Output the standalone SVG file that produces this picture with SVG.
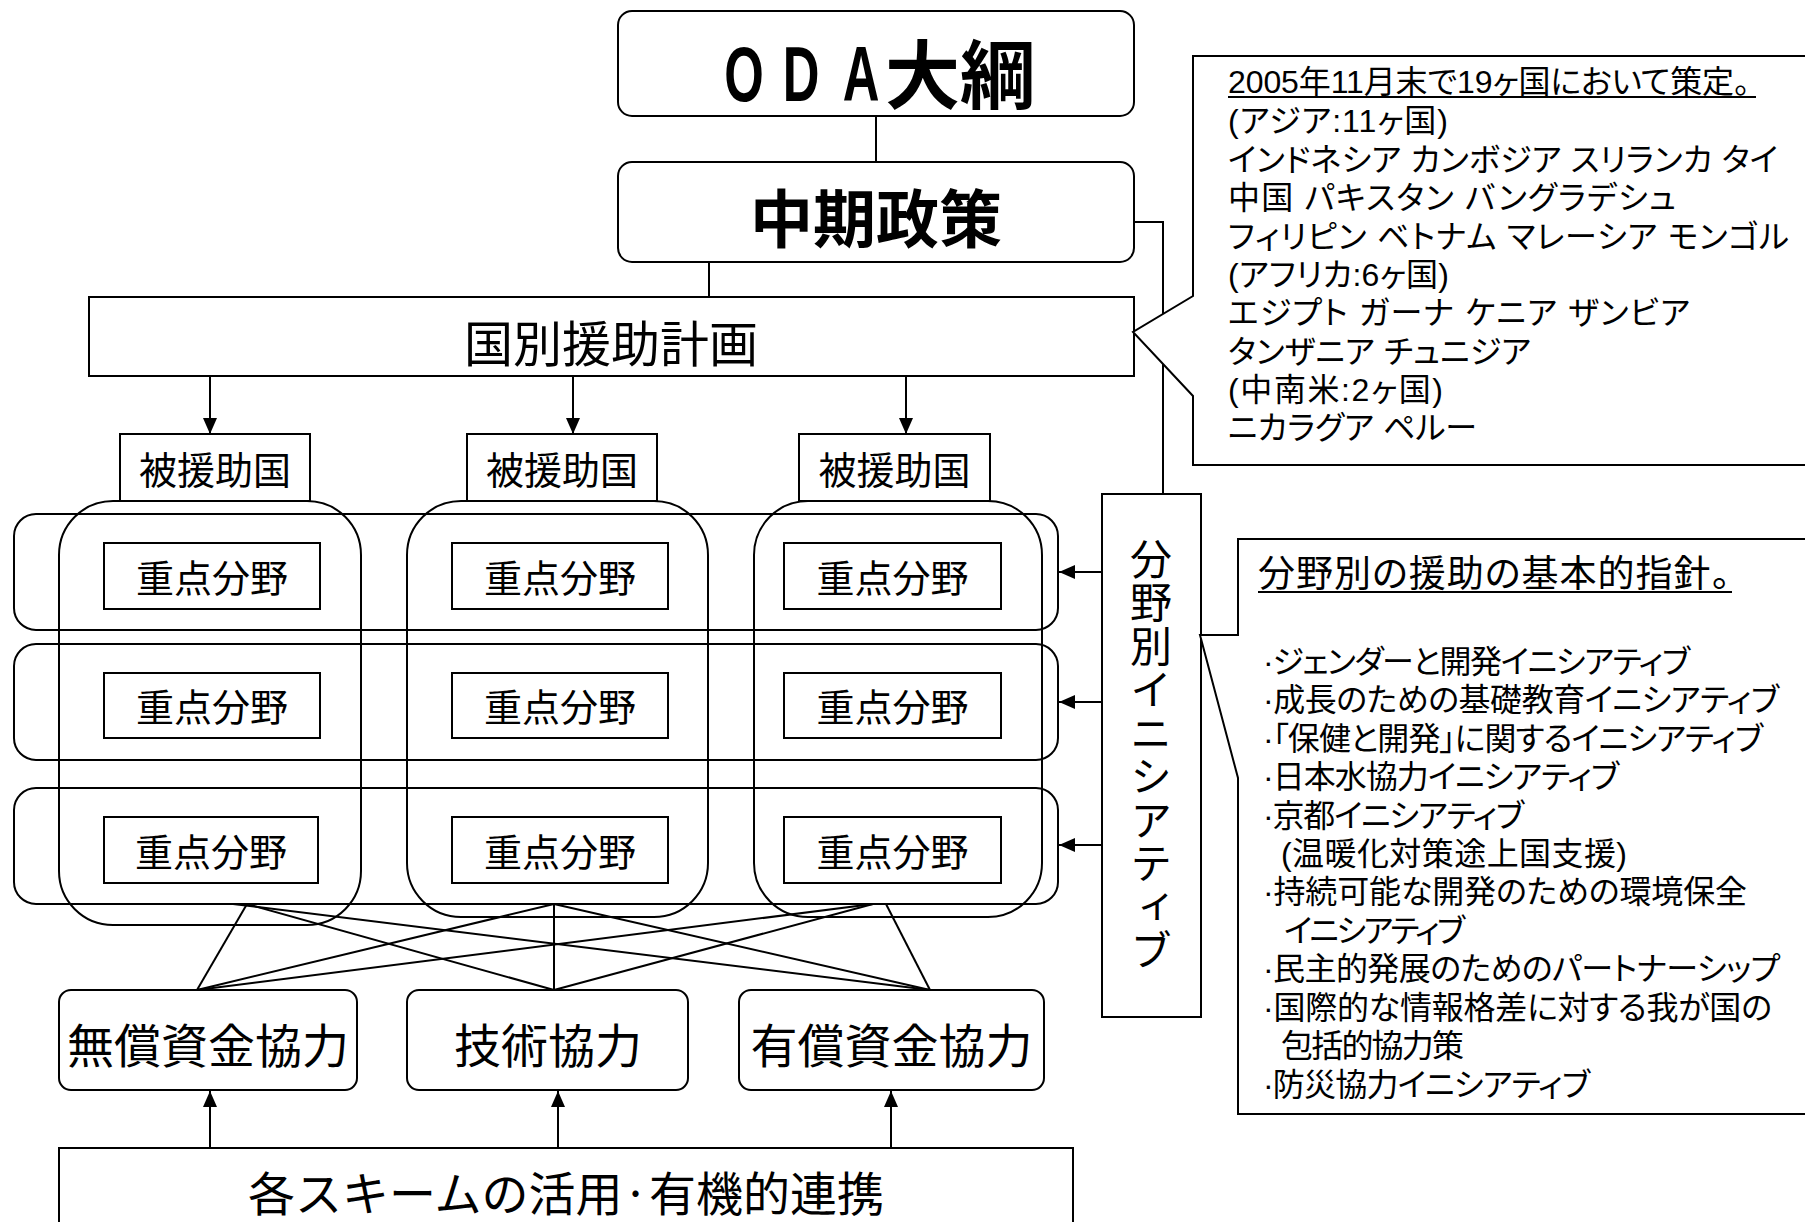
<svg xmlns="http://www.w3.org/2000/svg" width="1805" height="1222" viewBox="0 0 1805 1222">
<style>
.box{fill:#fff;stroke:#000;stroke-width:2}
.grp{fill:none;stroke:#000;stroke-width:2}
.ln{fill:none;stroke:#000;stroke-width:2}
.t{font-family:"Noto Sans CJK JP",sans-serif;fill:#000;text-anchor:middle;dominant-baseline:central}
.c{font-family:"Liberation Sans","Noto Sans CJK JP",sans-serif;font-feature-settings:"palt" 1;font-size:32px;fill:#000;dominant-baseline:central}
.u{stroke:#000;stroke-width:2}
.lat{font-family:"Liberation Sans",sans-serif;font-weight:bold;font-size:77px;text-anchor:middle}
.v{font-family:"Noto Sans CJK JP",sans-serif;font-size:42px;fill:#000;writing-mode:vertical-rl;letter-spacing:1.5px}
</style>
<defs>
<marker id="ah" viewBox="0 0 16 14" refX="16" refY="7" markerWidth="16" markerHeight="14" markerUnits="userSpaceOnUse" orient="auto">
<path d="M0,0 L16,7 L0,14 Z" fill="#000"/>
</marker>
</defs>
<rect width="1805" height="1222" fill="#fff"/>

<g id="connectors">
<line class="ln" x1="876" y1="116" x2="876" y2="162"/>
<line class="ln" x1="709" y1="262" x2="709" y2="297"/>
<path class="ln" d="M1134,222 H1163 V494"/>
<line class="ln" x1="210" y1="376" x2="210" y2="434" marker-end="url(#ah)"/>
<line class="ln" x1="573" y1="376" x2="573" y2="434" marker-end="url(#ah)"/>
<line class="ln" x1="906" y1="376" x2="906" y2="434" marker-end="url(#ah)"/>
<line class="ln" x1="1102" y1="572" x2="1059" y2="572" marker-end="url(#ah)"/>
<line class="ln" x1="1102" y1="702" x2="1059" y2="702" marker-end="url(#ah)"/>
<line class="ln" x1="1102" y1="845" x2="1059" y2="845" marker-end="url(#ah)"/>
<line class="ln" x1="210" y1="1148" x2="210" y2="1091" marker-end="url(#ah)"/>
<line class="ln" x1="558" y1="1148" x2="558" y2="1091" marker-end="url(#ah)"/>
<line class="ln" x1="891" y1="1148" x2="891" y2="1091" marker-end="url(#ah)"/>
<line class="ln" x1="247" y1="904" x2="197" y2="990"/>
<line class="ln" x1="247" y1="904" x2="554" y2="990"/>
<line class="ln" x1="233" y1="904" x2="930" y2="990"/>
<line class="ln" x1="554" y1="904" x2="197" y2="990"/>
<line class="ln" x1="554" y1="904" x2="554" y2="990"/>
<line class="ln" x1="554" y1="904" x2="930" y2="990"/>
<line class="ln" x1="873" y1="904" x2="197" y2="990"/>
<line class="ln" x1="873" y1="904" x2="554" y2="990"/>
<line class="ln" x1="886" y1="904" x2="930" y2="990"/>
</g>

<g id="oda">
<rect class="box" x="618" y="11" width="516" height="105" rx="14"/>
<text class="lat" transform="translate(744,101) scale(0.66,1)">O</text>
<text class="lat" transform="translate(801,101) scale(0.66,1)">D</text>
<text class="lat" transform="translate(861,101) scale(0.66,1)">A</text>
<text x="885" y="103" font-family="Noto Sans CJK JP,sans-serif" font-weight="bold" font-size="75">大綱</text>
</g>

<g id="chuki">
<rect class="box" x="618" y="162" width="516" height="100" rx="14"/>
<text class="t" x="876" y="214" font-size="63" font-weight="bold">中期政策</text>
</g>

<g id="kunibetsu">
<rect class="box" x="89" y="297" width="1045" height="79"/>
<text class="t" x="611" y="340" font-size="49">国別援助計画</text>
</g>

<g id="callout-top">
<path class="box" d="M1812,56 H1193 V296 L1133,332 L1193,396 V465 H1812"/>
<text class="c" x="1228" y="82" textLength="522" lengthAdjust="spacing">2005年11月末で19ヶ国において策定。</text>
<line class="u" x1="1228" y1="97" x2="1756" y2="97"/>
<text class="c" x="1228" y="121" textLength="220" lengthAdjust="spacing">(アジア:11ヶ国)</text>
<text class="c" x="1228" y="160" textLength="550" lengthAdjust="spacing">インドネシア カンボジア スリランカ タイ</text>
<text class="c" x="1228" y="198" textLength="448" lengthAdjust="spacing">中国 パキスタン バングラデシュ</text>
<text class="c" x="1228" y="237" textLength="561" lengthAdjust="spacing">フィリピン ベトナム マレーシア モンゴル</text>
<text class="c" x="1228" y="275" textLength="221" lengthAdjust="spacing">(アフリカ:6ヶ国)</text>
<text class="c" x="1228" y="313" textLength="462" lengthAdjust="spacing">エジプト ガーナ ケニア ザンビア</text>
<text class="c" x="1228" y="352" textLength="303" lengthAdjust="spacing">タンザニア チュニジア</text>
<text class="c" x="1228" y="390" textLength="215" lengthAdjust="spacing">(中南米:2ヶ国)</text>
<text class="c" x="1228" y="428" textLength="249" lengthAdjust="spacing">ニカラグア ペルー</text>
</g>

<g id="hienjo-1">
<rect class="box" x="120" y="434" width="190" height="67"/>
<text class="t" x="215" y="467" font-size="38">被援助国</text>
</g>
<g id="hienjo-2">
<rect class="box" x="467" y="434" width="190" height="67"/>
<text class="t" x="562" y="467" font-size="38">被援助国</text>
</g>
<g id="hienjo-3">
<rect class="box" x="799" y="434" width="191" height="67"/>
<text class="t" x="894.5" y="467" font-size="38">被援助国</text>
</g>

<g id="column-groups">
<rect class="grp" x="59" y="501" width="302" height="424" rx="54"/>
<rect class="grp" x="407" y="501" width="301" height="416" rx="54"/>
<rect class="grp" x="754" y="501" width="288" height="416" rx="54"/>
</g>
<g id="row-groups">
<rect class="grp" x="14" y="514" width="1044" height="116" rx="22"/>
<rect class="grp" x="14" y="644" width="1044" height="116" rx="22"/>
<rect class="grp" x="14" y="788" width="1044" height="116" rx="22"/>
</g>

<g id="juten-1-1"><rect class="box" x="104" y="543" width="216" height="66"/><text class="t" x="212" y="575" font-size="38">重点分野</text></g>
<g id="juten-1-2"><rect class="box" x="452" y="543" width="216" height="66"/><text class="t" x="560" y="575" font-size="38">重点分野</text></g>
<g id="juten-1-3"><rect class="box" x="784" y="543" width="217" height="66"/><text class="t" x="892.5" y="575" font-size="38">重点分野</text></g>
<g id="juten-2-1"><rect class="box" x="104" y="673" width="216" height="65"/><text class="t" x="212" y="704" font-size="38">重点分野</text></g>
<g id="juten-2-2"><rect class="box" x="452" y="673" width="216" height="65"/><text class="t" x="560" y="704" font-size="38">重点分野</text></g>
<g id="juten-2-3"><rect class="box" x="784" y="673" width="217" height="65"/><text class="t" x="892.5" y="704" font-size="38">重点分野</text></g>
<g id="juten-3-1"><rect class="box" x="104" y="817" width="214" height="66"/><text class="t" x="211" y="849" font-size="38">重点分野</text></g>
<g id="juten-3-2"><rect class="box" x="452" y="817" width="216" height="66"/><text class="t" x="560" y="849" font-size="38">重点分野</text></g>
<g id="juten-3-3"><rect class="box" x="784" y="817" width="217" height="66"/><text class="t" x="892.5" y="849" font-size="38">重点分野</text></g>

<g id="bunyabetsu">
<rect class="box" x="1102" y="494" width="99" height="523"/>
<text class="v" x="1151" y="538">分野別イニシアティブ</text>
</g>

<g id="callout-bottom">
<path class="box" d="M1812,539 H1238 V635 H1200 L1238,778 V1114 H1812"/>
<text class="c" x="1258" y="574" style="font-size:37px" textLength="472" lengthAdjust="spacing">分野別の援助の基本的指針。</text>
<line class="u" x1="1258" y1="592" x2="1732" y2="592"/>
<text class="c" x="1263" y="662" textLength="427" lengthAdjust="spacing">·ジェンダーと開発イニシアティブ</text>
<text class="c" x="1263" y="700" textLength="516" lengthAdjust="spacing">·成長のための基礎教育イニシアティブ</text>
<text class="c" x="1263" y="739" textLength="500" lengthAdjust="spacing">·「保健と開発」に関するイニシアティブ</text>
<text class="c" x="1263" y="777" textLength="356" lengthAdjust="spacing">·日本水協力イニシアティブ</text>
<text class="c" x="1263" y="816" textLength="261" lengthAdjust="spacing">·京都イニシアティブ</text>
<text class="c" x="1281" y="854" textLength="346" lengthAdjust="spacing">(温暖化対策途上国支援)</text>
<text class="c" x="1263" y="892" textLength="484" lengthAdjust="spacing">·持続可能な開発のための環境保全</text>
<text class="c" x="1284" y="931" textLength="181" lengthAdjust="spacing">イニシアティブ</text>
<text class="c" x="1263" y="969" textLength="517" lengthAdjust="spacing">·民主的発展のためのパートナーシップ</text>
<text class="c" x="1263" y="1008" textLength="509" lengthAdjust="spacing">·国際的な情報格差に対する我が国の</text>
<text class="c" x="1281" y="1046" textLength="183" lengthAdjust="spacing">包括的協力策</text>
<text class="c" x="1263" y="1085" textLength="327" lengthAdjust="spacing">·防災協力イニシアティブ</text>
</g>

<g id="musho">
<rect class="box" x="59" y="990" width="298" height="100" rx="12"/>
<text class="t" x="208" y="1042" font-size="47">無償資金協力</text>
</g>
<g id="gijutsu">
<rect class="box" x="407" y="990" width="281" height="100" rx="12"/>
<text class="t" x="548" y="1042" font-size="47">技術協力</text>
</g>
<g id="yusho">
<rect class="box" x="739" y="990" width="305" height="100" rx="12"/>
<text class="t" x="891.5" y="1042" font-size="47">有償資金協力</text>
</g>

<g id="scheme">
<rect class="box" x="59" y="1148" width="1014" height="90"/>
<text class="t" x="566" y="1190" font-size="47">各スキームの活用·有機的連携</text>
</g>
</svg>
